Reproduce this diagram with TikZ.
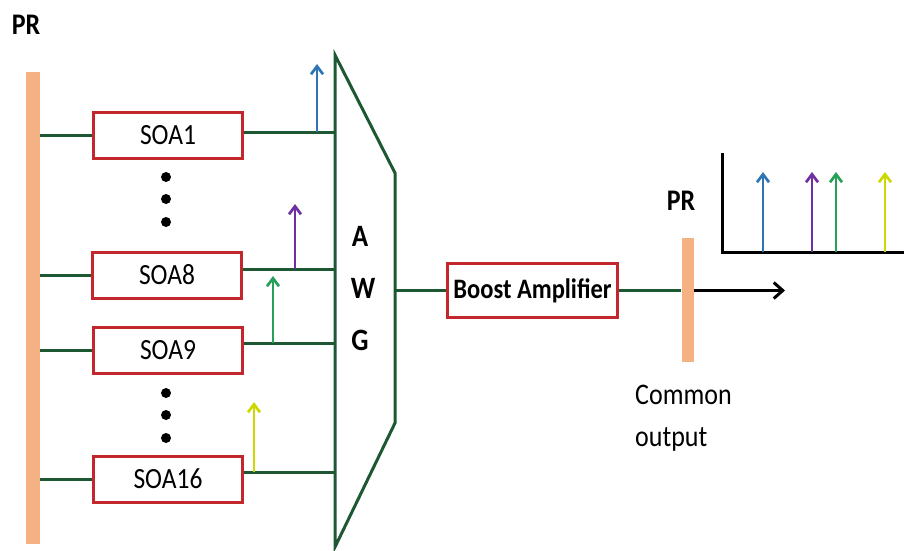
\documentclass[tikz,border=0pt]{standalone}
\usepackage{fontspec}
\setmainfont{Carlito}
\usetikzlibrary{arrows.meta}
\definecolor{prbar}{RGB}{244,177,131}
\definecolor{gline}{RGB}{30,88,50}
\definecolor{boxred}{RGB}{196,38,45}
\definecolor{cblue}{RGB}{46,117,182}
\definecolor{cpurple}{RGB}{112,48,160}
\definecolor{cgreen}{RGB}{40,160,90}
\definecolor{cyellow}{RGB}{205,215,0}
\newcommand{\tallt}[1]{\scalebox{1}[1.15]{#1}}
\tikzset{
  gl/.style={draw=gline, line width=3pt},
  soabox/.style={draw=boxred, line width=3pt, fill=white, minimum width=149pt, minimum height=46pt, inner sep=0pt, font=\fontsize{25.5}{25.5}\selectfont},
  barnode/.style={fill=prbar, draw=none, minimum width=14pt, inner sep=0pt},
  sarr/.style={line width=2.7pt, -{Straight Barb[length=8pt, width=12pt, line width=2.7pt]}},
  lbl/.style={inner sep=0pt, font=\fontsize{26}{26}\selectfont\bfseries},
  dotc/.style={circle, fill=black, minimum size=10pt, inner sep=0pt},
}
\begin{document}
\begin{tikzpicture}[x=1pt, y=-1pt]
\useasboundingbox (0,0) rectangle (904,550);
% left PR bar
\node[lbl] (prtxt) at (26,25) {\tallt{PR}};
\node[barnode, minimum height=472pt] (pr1) at (32.5,308) {};
% SOA boxes
\node[soabox] (s1) at (168,135) {\tallt{SOA1}};
\node[soabox] (s8) at (167,275) {\tallt{SOA8}};
\node[soabox] (s9) at (168,350) {\tallt{SOA9}};
\node[soabox] (s16) at (168,479) {\tallt{SOA16}};
% dots
\node[dotc] (d1) at (166,177) {};
\node[dotc] (d2) at (166,199) {};
\node[dotc] (d3) at (166,222) {};
\node[dotc] (d4) at (166,393) {};
\node[dotc] (d5) at (166,415) {};
\node[dotc] (d6) at (166,438) {};
% AWG
\coordinate (a1) at (335,55);
\coordinate (a2) at (395,173);
\coordinate (a3) at (395,423);
\coordinate (a4) at (335,547);
\draw[gl, line join=miter] (a1) -- (a2) -- (a3) -- (a4) -- cycle;
\node[lbl, font=\fontsize{27}{27}\selectfont\bfseries] (la) at (360,236) {\tallt{A}};
\node[lbl, font=\fontsize{27}{27}\selectfont\bfseries] (lw) at (363,288) {\tallt{W}};
\node[lbl, font=\fontsize{27}{27}\selectfont\bfseries] (lg) at (360,340) {\tallt{G}};
% left connectors
\foreach \s in {s1,s8,s9,s16}{\draw[gl] (pr1.east |- \s) -- (\s);}
% right connectors
\coordinate (r1) at ([yshift=3pt]s1.east);
\coordinate (r8) at ([yshift=6pt]s8.east);
\coordinate (r9) at ([yshift=7pt]s9.east);
\coordinate (r16) at ([yshift=7pt]s16.east);
\foreach \r in {r1,r8,r9,r16}{\draw[gl] (\r) -- (\r -| a1);}
% wavelength arrows on inputs
\coordinate (b1) at (317,132); \coordinate (t1) at (317,64);
\coordinate (b8) at (295,269); \coordinate (t8) at (295,204);
\coordinate (b9) at (273,343); \coordinate (t9) at (273,276);
\coordinate (b16) at (254,472); \coordinate (t16) at (254,402);
\draw[sarr, cblue] (b1) -- (t1);
\draw[sarr, cpurple] (b8) -- (t8);
\draw[sarr, cgreen] (b9) -- (t9);
\draw[sarr, cyellow] (b16) -- (t16);
% boost amplifier
\node[soabox, minimum width=170pt, minimum height=54pt, font=\fontsize{24.5}{24.5}\selectfont] (boost) at (532.5,290.5) {\tallt{\bfseries Boost Amplifier}};
\draw[gl] (a2 |- boost) -- (boost);
% output PR
\node[barnode, minimum height=124pt, minimum width=12pt] (pr2) at (687.5,300) {};
\node[lbl] (pr2txt) at (681,201) {\tallt{PR}};
\draw[gl] (boost) -- (pr2.west |- boost);
\coordinate (outend) at (785,290.5);
\draw[line width=3pt, -{Straight Barb[length=9pt, width=16pt, line width=3pt]}] (pr2.east |- boost) -- (outend);
\node[inner sep=0pt, anchor=north west, align=left, font=\fontsize{26}{42}\selectfont] (common) at (635,385) {\tallt{Common}\\\tallt{output}};
% spectrum
\coordinate (ax0) at (722,252);
\coordinate (axt) at (722,153);
\coordinate (axr) at (906,252);
\draw[line width=3pt, line join=miter] (axt) -- (ax0) -- (axr);
\draw[sarr, cblue] (763,252) -- (763,172);
\draw[sarr, cpurple] (812,252) -- (812,172);
\draw[sarr, cgreen] (836,252) -- (836,172);
\draw[sarr, cyellow] (885,252) -- (885,172);
\end{tikzpicture}
\end{document}
